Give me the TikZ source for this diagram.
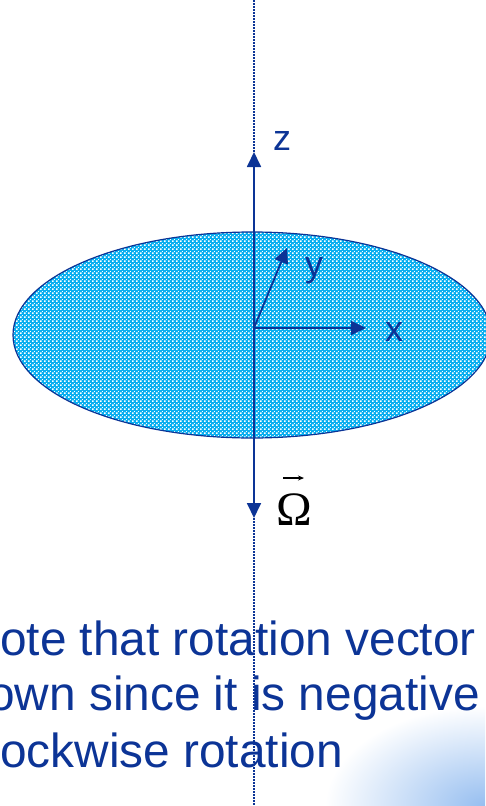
\documentclass[tikz,border=0pt]{standalone}
\usepackage{fontspec}
\setmainfont{Liberation Sans}
\newfontfamily\omegafont{Liberation Serif}
\usetikzlibrary{arrows.meta,patterns,shapes.geometric}
\definecolor{axisblue}{RGB}{12,52,150}
\definecolor{discblue}{RGB}{10,175,240}
\definecolor{glowblue}{RGB}{150,190,240}
\pgfdeclarepatternformonly{discweave}{\pgfqpoint{0pt}{0pt}}{\pgfqpoint{4pt}{4pt}}{\pgfqpoint{4pt}{4pt}}{
  \pgfpathrectangle{\pgfqpoint{0pt}{0pt}}{\pgfqpoint{2pt}{2pt}}
  \pgfpathrectangle{\pgfqpoint{2.5pt}{2.5pt}}{\pgfqpoint{1pt}{1pt}}
  \pgfusepath{fill}
}

\begin{document}
\begin{tikzpicture}[x=1pt, y=-1pt,
  disc/.style={ellipse, draw=axisblue, line width=1.2pt, preaction={fill=discblue},
               pattern=discweave, pattern color=white,
               minimum width=478pt, minimum height=206pt, inner sep=0pt},
  axis/.style={draw=axisblue, line width=1.8pt},
  dots/.style={draw=axisblue, line width=1.6pt, dash pattern=on 1.6pt off 1.4pt},
  arr/.style={axis, -{Triangle[length=15pt, width=14pt]}},
  lbl/.style={text=axisblue, font=\fontsize{36}{40}\selectfont, inner sep=0pt},
  note/.style={text=axisblue, font=\fontsize{47.8}{56}\selectfont, inner sep=0pt, anchor=base west}
]
\useasboundingbox (0,0) rectangle (485,806);
% glow in the corner
\begin{scope}
  \clip (0,0) rectangle (485,806);
  \shade[inner color=glowblue, outer color=white] (485,806) ellipse [x radius=160pt, y radius=100pt];
\end{scope}

\node[disc] (disc) at (252,335) {};

\coordinate (O) at (254,328);
\coordinate (topend) at (254,0);
\coordinate (botend) at (254,806);
\coordinate (ztip) at (254,152);
\coordinate (wtip) at (254,518);
\coordinate (xtip) at (366,328);
\coordinate (ytip) at (287,248);

\node[note] (line1) at (0,655) {ote that rotation vector};
\node[note] (line2) at (-12,710) {own since it is negative};
\node[note] (line3) at (0,767) {ockwise rotation};

\draw[dots] (topend) -- (ztip);
\draw[dots] (wtip) -- (botend);
\draw[arr] (O) -- (ztip);
\draw[arr] (O) -- (wtip);
\draw[arr] (O) -- (xtip);
\draw[arr] (O) -- (ytip);

\node[lbl] (zlbl) at (282,141) {z};
\node[lbl] (ylbl) at (314,271) {y};
\node[lbl] (xlbl) at (394,332) {x};
\node[inner sep=0pt, anchor=base, font=\omegafont\fontsize{48}{50}\selectfont] (omega) at (294,525) {Ω};
\draw[line width=1.2pt, -{Stealth[length=6pt, width=5pt]}] ([xshift=-11pt, yshift=15pt]omega.north) -- ([xshift=10pt, yshift=15pt]omega.north);
\end{tikzpicture}
\end{document}
